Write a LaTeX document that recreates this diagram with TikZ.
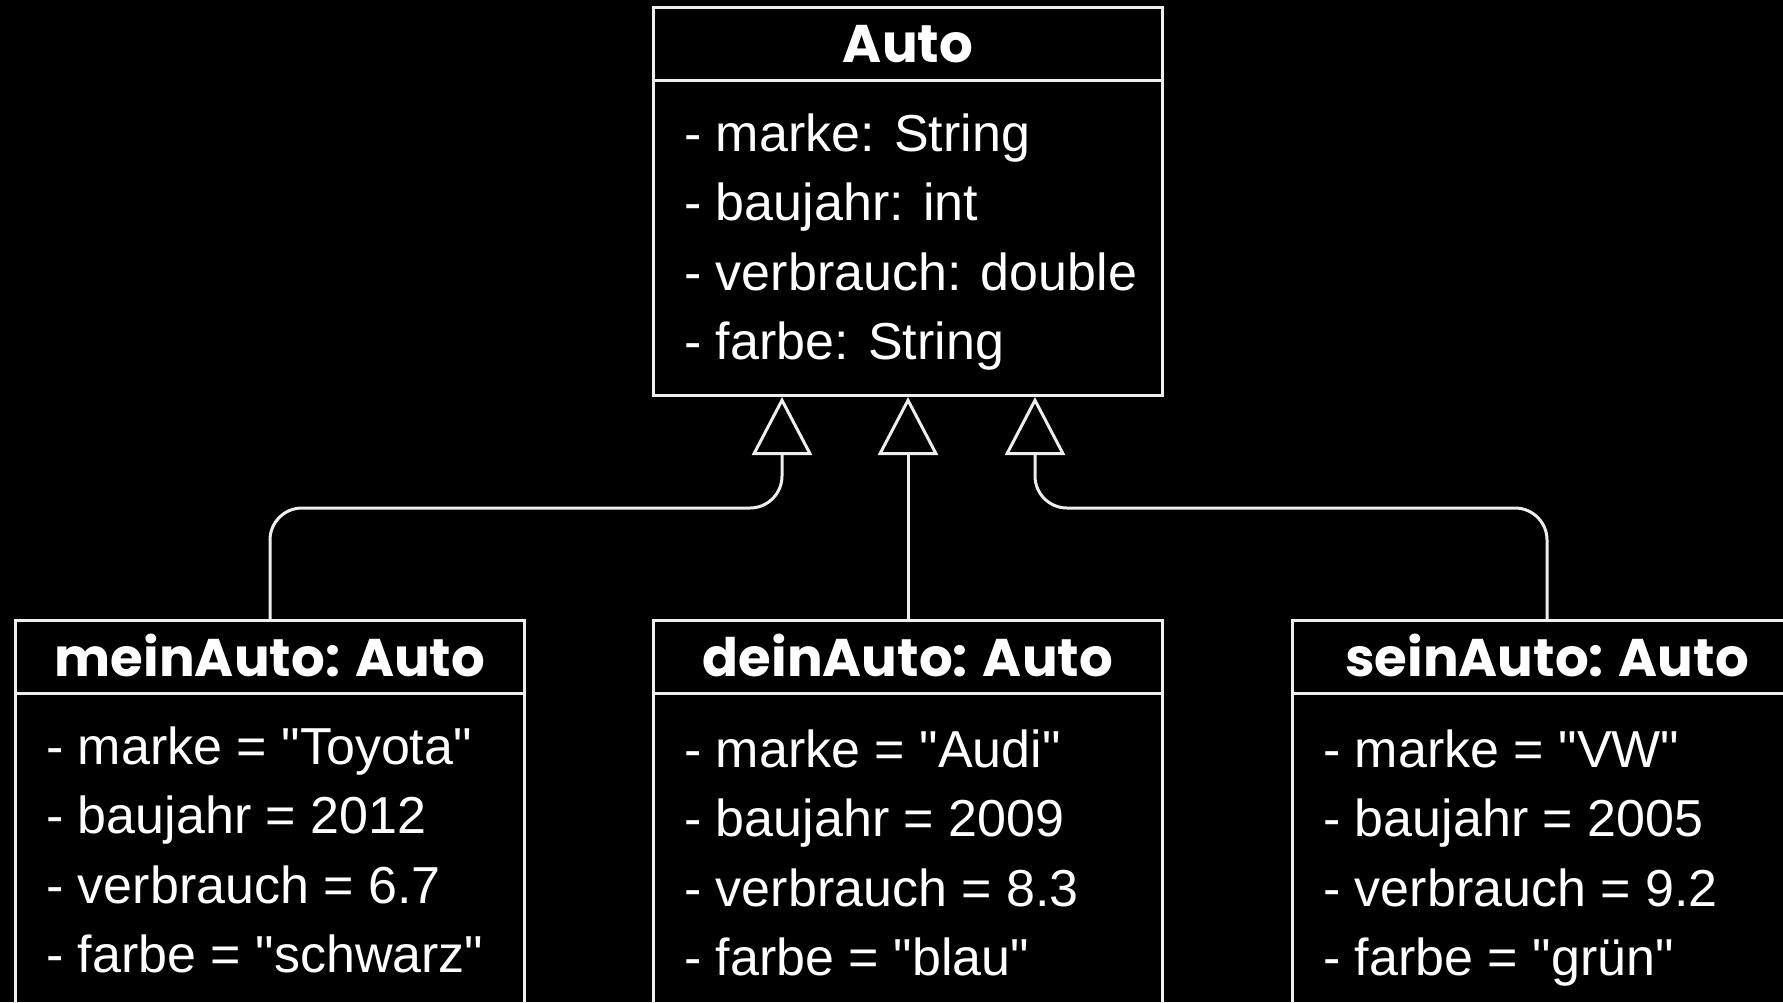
\documentclass[tikz,border=0pt]{standalone}
\usepackage{fontspec}
\setmainfont{Liberation Sans}[Ligatures=TeXOff]
\newfontfamily\titlefont{Poppins}
\usetikzlibrary{arrows.meta}
\definecolor{ln}{RGB}{238,238,238}
\begin{document}
\begin{tikzpicture}[x=1pt,y=-1pt,
  box/.style={draw=ln,line width=3pt,rectangle,inner sep=0pt,anchor=north west,minimum width=509pt},
  ttl/.style={text=white,font=\titlefont\bfseries\fontsize{53}{58}\selectfont,anchor=base,inner sep=0pt},
  attr/.style={text=white,font=\fontsize{52}{60}\selectfont,anchor=base west,inner sep=0pt},
  conn/.style={draw=ln,line width=3pt,rounded corners=32pt,-{Triangle[open,length=58pt,width=60pt]}},
  div/.style={draw=ln,line width=3pt}]
\fill[black] (0,0) rectangle (1783,1002);
\clip (0,0) rectangle (1783,1002);
% class Auto
\node[box,minimum height=388pt] (auto) at (652,6) {};
\draw[div] ([yshift=-74pt]auto.north west) -- ([yshift=-74pt]auto.north east);
\node[ttl] (autoT) at ([yshift=-56pt]auto.north) {Auto};
\node[attr] (auto1) at ([xshift=32pt,yshift=-145pt]auto.north west) {- marke: String};
\node[attr] (auto2) at ([xshift=32pt,yshift=-214.5pt]auto.north west) {- baujahr: int};
\node[attr] (auto3) at ([xshift=32pt,yshift=-284pt]auto.north west) {- verbrauch: double};
\node[attr] (auto4) at ([xshift=32pt,yshift=-353.5pt]auto.north west) {- farbe: String};
% objects
\node[box,minimum height=420pt] (mein) at (14,619) {};
\node[box,minimum height=420pt] (dein) at (652,619) {};
\node[box,minimum height=420pt] (sein) at (1291,619) {};
\foreach \n in {mein,dein,sein}{
  \draw[div] ([yshift=-74pt]\n.north west) -- ([yshift=-74pt]\n.north east);
}
\node[ttl] (meinT) at ([yshift=-57pt]mein.north) {meinAuto: Auto};
\node[ttl] (deinT) at ([yshift=-57pt]dein.north) {deinAuto: Auto};
\node[ttl] (seinT) at ([yshift=-57pt]sein.north) {seinAuto: Auto};
\node[attr] (mein1) at ([xshift=32pt,yshift=-145pt]mein.north west) {- marke = "Toyota"};
\node[attr] (mein2) at ([xshift=32pt,yshift=-214.5pt]mein.north west) {- baujahr = 2012};
\node[attr] (mein3) at ([xshift=32pt,yshift=-284pt]mein.north west) {- verbrauch = 6.7};
\node[attr] (mein4) at ([xshift=32pt,yshift=-353.5pt]mein.north west) {- farbe = "schwarz"};
\node[attr] (dein1) at ([xshift=32pt,yshift=-148pt]dein.north west) {- marke = "Audi"};
\node[attr] (dein2) at ([xshift=32pt,yshift=-217.5pt]dein.north west) {- baujahr = 2009};
\node[attr] (dein3) at ([xshift=32pt,yshift=-287pt]dein.north west) {- verbrauch = 8.3};
\node[attr] (dein4) at ([xshift=32pt,yshift=-356.5pt]dein.north west) {- farbe = "blau"};
\node[attr] (sein1) at ([xshift=32pt,yshift=-148pt]sein.north west) {- marke = "VW"};
\node[attr] (sein2) at ([xshift=32pt,yshift=-217.5pt]sein.north west) {- baujahr = 2005};
\node[attr] (sein3) at ([xshift=32pt,yshift=-287pt]sein.north west) {- verbrauch = 9.2};
\node[attr] (sein4) at ([xshift=32pt,yshift=-356.5pt]sein.north west) {- farbe = "grün"};
% inheritance connectors
\coordinate (in1) at ([xshift=-126pt]auto.south);
\coordinate (in2) at (auto.south -| dein.north);
\coordinate (in3) at ([xshift=127pt]auto.south);
\draw[conn] (mein.north) -- ++(0,-111) -| (in1);
\draw[conn] (dein.north) -- (in2);
\draw[conn] (sein.north) -- ++(0,-111) -| (in3);
\end{tikzpicture}
\end{document}
